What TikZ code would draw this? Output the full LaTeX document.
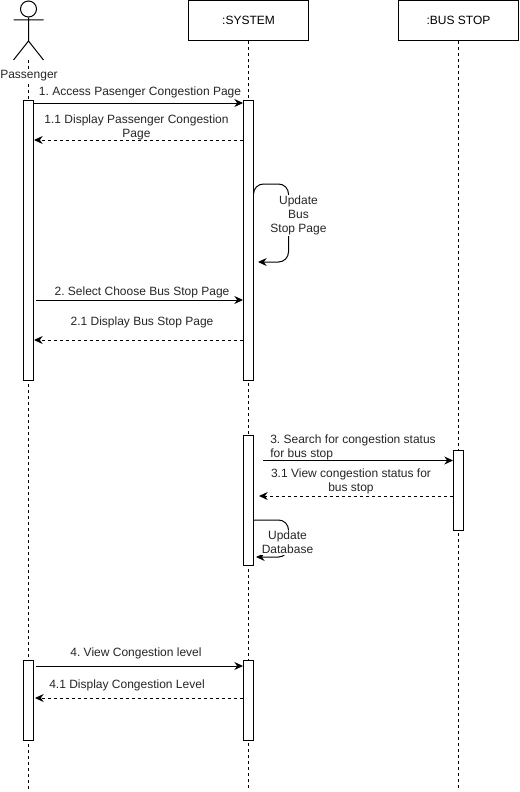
\documentclass[tikz,border=0pt]{standalone}
\usepackage{fontspec}
\setmainfont{Liberation Sans}
\usetikzlibrary{arrows.meta,calc}
\frenchspacing
\tikzset{
 life/.style={draw=black,line width=0.75pt,dash pattern=on 2.25pt off 2.25pt},
 boxn/.style={draw=black,fill=white,line width=0.75pt,minimum width=90pt,minimum height=30pt,inner sep=0pt,font=\fontsize{9}{10.5}\selectfont},
 bar/.style={draw=black,fill=white,line width=0.75pt,minimum width=7.5pt,inner sep=0pt},
 msg/.style={draw=black,line width=0.75pt,-{Stealth[length=6.5pt,width=6pt]}},
 ret/.style={msg,dash pattern=on 2.25pt off 2.25pt},
 lbl/.style={font=\fontsize{9}{10.5}\selectfont,align=center,inner sep=0.5pt,text=black!85},
 lblw/.style={lbl,fill=white},
 limb/.style={draw=black,line width=0.75pt}
}
\begin{document}
\begin{tikzpicture}[x=0.75pt,y=-0.75pt]
\useasboundingbox (0,0) rectangle (519,792);
\fill[white] (0,0) rectangle (519,792);
% lifeline ends
\coordinate (passTop) at (28.5,60);
\coordinate (passEnd) at (28.5,790);
\coordinate (sysEnd) at (248.5,790);
\coordinate (busEnd) at (458.5,790);
% boxes
\node[boxn] (sys) at (248.5,20.5) {:SYSTEM};
\node[boxn] (bus) at (458.5,20.5) {:BUS STOP};
\draw[life] (passTop) -- (passEnd);
\draw[life] (sys.south) -- (sysEnd);
\draw[life] (bus.south) -- (busEnd);
% actor
\coordinate (hip) at (28.5,41);
\coordinate (armL) at (13.5,20);
\coordinate (armR) at (43.5,20);
\coordinate (legL) at (13.5,60);
\coordinate (legR) at (43.5,60);
\node[draw=black,circle,line width=0.75pt,minimum size=12pt,inner sep=0pt] (head) at (28.5,9) {};
\draw[limb] (head.south) -- (hip) (armL) -- (armR) (legL) -- (hip) -- (legR);
\node[lblw] (passenger) at (29,75.5) {Passenger};
% activation bars
\node[bar,minimum height=210pt] (p1) at (28.5,240) {};
\node[bar,minimum height=210pt] (s1) at (248.5,240) {};
\node[bar,minimum height=97.5pt] (s2) at (248.5,500) {};
\node[bar,minimum height=60pt] (b1) at (458.5,490) {};
\node[bar,minimum height=60pt] (p2) at (28.5,700) {};
\node[bar,minimum height=60pt] (s3) at (248.5,700) {};
% messages
\draw[msg] (p1.east |- 0,103) -- (s1.west |- 0,103);
\node[lbl] (m1) at (140,92) {1. Access Pasenger Congestion Page};
\draw[ret] (s1.west |- 0,140) -- (p1.east |- 0,140);
\node[lbl] (m11) at (136.5,127) {1.1 Display Passenger Congestion\\Page};
% self 1
\coordinate (u1) at (253.5,194);
\coordinate (u1b) at (253.5,184);
\coordinate (u2) at (288.5,184);
\coordinate (u3) at (288.5,262);
\coordinate (u4) at (258,262);
\draw[msg,rounded corners=7.5pt] (u1) -- (u1b) -- (u2) -- (u3) -- (u4);
\node[lblw] (m12) at (298.5,215.5) {Update\\Bus\\Stop Page};
% 2
\coordinate (m2s) at (36,300);
\draw[msg] (m2s) -- (s1.west |- m2s);
\node[lbl] (m2) at (142,292) {2. Select Choose Bus Stop Page};
\draw[ret] (s1.west |- 0,340) -- (p1.east |- 0,340);
\node[lbl] (m21) at (142,322) {2.1 Display Bus Stop Page};
% 3
\coordinate (m3s) at (263,460.5);
\draw[msg] (m3s) -- (b1.west |- m3s);
\node[lbl,align=left] (m3) at (353,447) {3. Search for congestion status\\for bus stop};
\coordinate (m31e) at (259,496);
\draw[ret] (b1.west |- m31e) -- (m31e);
\node[lbl] (m31) at (351,481) {3.1 View congestion status for\\bus stop};
% self 2
\coordinate (d1) at (254,520);
\coordinate (d2) at (288.5,520);
\coordinate (d3) at (288.5,557);
\coordinate (d4) at (256,557);
\draw[msg,rounded corners=7.5pt] (d1) -- (d2) -- (d3) -- (d4);
\node[lblw] (m32) at (287.5,542.5) {Update\\Database};
% 4
\coordinate (m4s) at (36,666);
\draw[msg] (m4s) -- (s3.west |- m4s);
\node[lbl] (m4) at (136,653) {4. View Congestion level};
\coordinate (m41e) at (35,698);
\draw[ret] (s3.west |- m41e) -- (m41e);
\node[lbl] (m41) at (127,685) {4.1 Display Congestion Level};
\end{tikzpicture}
\end{document}
